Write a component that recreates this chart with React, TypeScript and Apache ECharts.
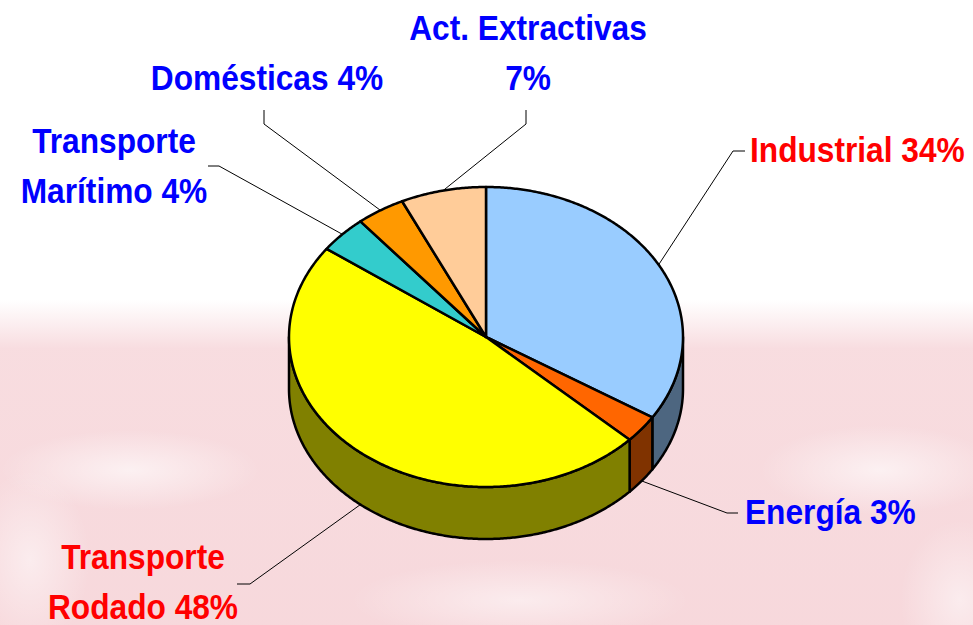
import React, { useEffect, useRef } from 'react';
import * as echarts from 'echarts';

// ---- data ----
const categories = ['Industrial', 'Energía', 'Transporte\nRodado', 'Transporte\nMarítimo', 'Domésticas', 'Act. Extractivas'];
const values = [34, 3, 48, 4, 4, 7];
const topColors = ['#99CCFF', '#FF6600', '#FFFF00', '#33CCCC', '#FF9900', '#FFCC99'];
const sideColors = ['#4D6680', '#803300', '#808000', '#1A6666', '#804C00', '#806650'];
const labelColors = ['#FF0000', '#0000FF', '#FF0000', '#0000FF', '#0000FF', '#0000FF'];

// ---- layout ----
const CX = 486, CY = 337, RX = 197, RY = 150, DEPTH = 52;
const FONT_SIZE = 36, SCALE_X = 0.88, LINE_GAP = 50, BASE_OFF = 12.5;
const labelLayout: any[] = [
  { x: 750, y: 162, align: 'left', breakBefore: false, pts: [[733, 151], [745, 151]] },
  { x: 745, y: 524, align: 'left', breakBefore: false, pts: [[727, 513], [738, 513]] },
  { x: 143, y: 569, align: 'center', breakBefore: false, pts: [[250, 584], [237, 584]] },
  { x: 114, y: 153, align: 'center', breakBefore: false, pts: [[219, 166], [208, 166]] },
  { x: 267, y: 90, align: 'center', breakBefore: false, pts: [[264, 124], [264, 110]] },
  { x: 528, y: 40, align: 'center', breakBefore: true, pts: [[526, 124], [526, 110]] },
];

const total = values.reduce((a, b) => a + b, 0);
const starts: number[] = [];
values.reduce((acc, v) => { starts.push(acc); return acc + v; }, 0);
const seriesData = values.map((v, i) => ({ name: categories[i], value: [starts[i], v] }));

function pt(deg: number, dy = 0) {
  const a = (deg * Math.PI) / 180;
  return [CX + RX * Math.sin(a), CY - RY * Math.cos(a) + dy];
}
function arc(a0: number, a1: number, dy: number) {
  const n = Math.max(2, Math.ceil(Math.abs(a1 - a0) / 0.5));
  const out: number[][] = [];
  for (let k = 0; k <= n; k++) out.push(pt(a0 + ((a1 - a0) * k) / n, dy));
  return out;
}

function renderItem(params: any, api: any) {
  const i = params.dataIndex;
  const start = api.value(0);
  const v = api.value(1);
  const a0 = (start / total) * 360;
  const a1 = ((start + v) / total) * 360;
  const children: any[] = [];
  const s0 = Math.max(a0, 90), s1 = Math.min(a1, 270);
  if (s1 > s0) {
    const pts = arc(s0, s1, 0).concat(arc(s0, s1, DEPTH).reverse());
    children.push({
      type: 'polygon', z2: 1, shape: { points: pts },
      style: { fill: sideColors[i], stroke: '#000', lineWidth: 2.5, lineJoin: 'round' },
    });
  }
  children.push({
    type: 'polygon', z2: 2, shape: { points: [[CX, CY]].concat(arc(a0, a1, 0)) },
    style: { fill: topColors[i], stroke: '#000', lineWidth: 2.5, lineJoin: 'round' },
  });
  const mid = (a0 + a1) / 2;
  const lay = labelLayout[i];
  const anchor = pt(mid, mid > 90 && mid < 270 ? DEPTH : 0);
  children.push({
    type: 'polyline', z2: 3, shape: { points: [anchor].concat(lay.pts) },
    style: { fill: 'none', stroke: '#000', lineWidth: 1 },
  });
  const text = categories[i] + (lay.breakBefore ? '\n' : ' ') + v + '%';
  text.split('\n').forEach((line: string, k: number) => {
    children.push({
      type: 'text', z2: 4, x: lay.x, y: lay.y + k * LINE_GAP - BASE_OFF, scaleX: SCALE_X,
      style: {
        text: line, x: 0, y: 0, fill: labelColors[i],
        font: `bold ${FONT_SIZE}px "Liberation Sans", Arial, sans-serif`,
        textAlign: lay.align, textVerticalAlign: 'middle',
      },
    });
  });
  return { type: 'group', children };
}

function softBlob(cx: number, cy: number, rx: number, ry: number, a: number) {
  return {
    type: 'ellipse', z: -9, silent: true, shape: { cx, cy, rx, ry },
    style: {
      fill: new echarts.graphic.RadialGradient(0.5, 0.5, 0.5, [
        { offset: 0, color: `rgba(255,255,255,${a})` },
        { offset: 1, color: 'rgba(255,255,255,0)' },
      ]),
    },
  };
}

export default function App() {
  const ref = useRef<HTMLDivElement>(null);
  useEffect(() => {
    document.body.style.margin = '0';
    const chart = echarts.init(ref.current!, null, { renderer: 'svg' });
    const pink = 'rgba(246,212,216,';
    chart.setOption({
      animation: false,
      backgroundColor: '#ffffff',
      graphic: [
        {
          type: 'rect', z: -10, silent: true,
          shape: { x: 0, y: 300, width: 973, height: 325 },
          style: {
            fill: new echarts.graphic.LinearGradient(0, 0, 0, 1, [
              { offset: 0, color: pink + '0)' },
              { offset: 0.15, color: pink + '0.8)' },
              { offset: 1, color: pink + '0.9)' },
            ]),
          },
        },
        softBlob(130, 470, 130, 40, 0.6),
        softBlob(30, 560, 60, 90, 0.5),
        softBlob(880, 470, 120, 45, 0.6),
        softBlob(520, 600, 170, 40, 0.5),
        softBlob(960, 600, 60, 80, 0.5),
      ],
      series: [
        {
          type: 'custom', coordinateSystem: 'none', silent: true,
          data: seriesData, renderItem,
        },
      ],
    });
    return () => chart.dispose();
  }, []);
  return <div ref={ref} style={{ width: 973, height: 625 }} />;
}
